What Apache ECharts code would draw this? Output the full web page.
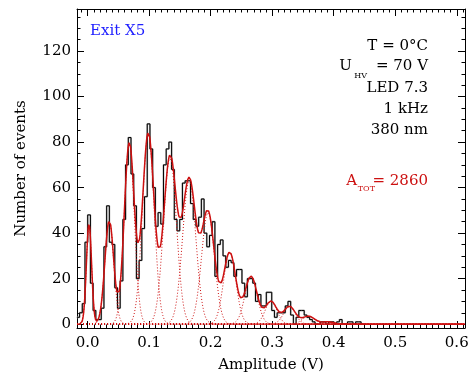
<!DOCTYPE html>
<html><head><meta charset="utf-8">
<script src="https://cdn.jsdelivr.net/npm/echarts@6/dist/echarts.min.js"></script>
<style>html,body{margin:0;padding:0;background:#fff}#c{width:475px;height:378px}</style>
</head><body><div id="c"></div>
<script>
// Histogram
const binStart = -0.0176;
const binWidth = 0.0044;
const counts = [3,5,9,36,48,18,6,2,2,7,34,52,36,35,16,7,19,46,70,82,66,52,20,28,42,56,88,77,60,43,49,44,70,77,80,68,46,41,46,62,63,63,53,46,43,47,55,40,34,39,45,21,35,37,30,25,28,27,21,24,24,18,12,20,20,18,10,13,8,8,14,14,6,3,5,5,5,8,10,4,0,3,6,6,4,3,2,1,0,0,1,1,0,1,1,0,1,2,0,0,1,1,0,1,1,0];
// Fitted Gaussian components
const fitCenters = [0.0021,0.0351,0.0676,0.0985,0.1338,0.1650,0.1956,0.2309,0.2655,0.2980,0.3280,0.3590,0.3900];
const fitHeights = [44,45.5,79.5,84,73.5,63,49,31.5,21,10,7.8,3.5,1];
const fitSigmas  = [0.0042,0.0072,0.0082,0.0095,0.0105,0.0108,0.0105,0.0100,0.0100,0.0095,0.0095,0.0100,0.0100];
// Axis ticks
const xTickLabels = [0,0.1,0.2,0.3,0.4,0.5,0.6];
const yTickLabels = [0,20,40,60,80,100,120];
const xMin = -0.0174, xMax = 0.6134, yMin = -1.7, yMax = 138.5;

const FONT = 'DejaVu Serif';
const RED = '#cc1010';

const histData = counts.map((v,k)=>[binStart + k*binWidth, v]);
const histEnd = binStart + counts.length*binWidth;
histData.push([histEnd, counts[counts.length-1]]);
histData.push([histEnd, 0]);

const step = 0.0005;
const xs = [];
for (let x = xMin; x <= xMax + 1e-9; x += step) xs.push(x);
const gauss = (x,i)=>fitHeights[i]*Math.exp(-Math.pow(x-fitCenters[i],2)/(2*fitSigmas[i]*fitSigmas[i]));
const compSeries = fitCenters.map((c,i)=>({
  type:'line', xAxisIndex:0, yAxisIndex:0, showSymbol:false, symbol:'none', silent:true, z:3,
  lineStyle:{color:RED, width:1, type:[1,2]},
  data: xs.map(x=>[x, gauss(x,i)])
}));
const totalData = xs.map(x=>{let s=0; for(let i=0;i<fitCenters.length;i++) s+=gauss(x,i); return [x,s];});

const xMinor=[]; for(let i=-1;i<=61;i++){ if(i%10!==0) xMinor.push(+(i*0.01).toFixed(2)); }
const yMinor=[]; for(let v=5; v<=135; v+=5){ if(v%20!==0) yMinor.push(v); }

function xAx(pos, major, labels){
  return {type:'value', min:xMin, max:xMax, position:pos, splitLine:{show:false},
    axisLine:{show:major, onZero:false, lineStyle:{color:'#000', width:1}},
    axisTick:{show:true, inside:true, length: major?7:3.5, customValues: major?xTickLabels:xMinor, lineStyle:{color:'#000'}},
    axisLabel:{show:labels, customValues: xTickLabels, formatter:v=>v.toFixed(1), color:'#000', fontFamily:FONT, fontSize:15, margin:8},
    name: labels?'Amplitude (V)':'', nameLocation:'middle', nameGap:30, nameTextStyle:{color:'#000', fontFamily:FONT, fontSize:15}
  };
}
function yAx(pos, major, labels){
  return {type:'value', min:yMin, max:yMax, position:pos, splitLine:{show:false},
    axisLine:{show:major, onZero:false, lineStyle:{color:'#000', width:1}},
    axisTick:{show:true, inside:true, length: major?7:3.5, customValues: major?yTickLabels:yMinor, lineStyle:{color:'#000'}},
    axisLabel:{show:labels, customValues: yTickLabels, color:'#000', fontFamily:FONT, fontSize:15, margin:6},
    name: labels?'Number of events':'', nameLocation:'middle', nameGap:48, nameRotate:90, nameTextStyle:{color:'#000', fontFamily:FONT, fontSize:15}
  };
}

const chart = echarts.init(document.getElementById('c'), null, {renderer:'canvas'});
const t = (text, x, y, opts={}) => ({type:'text', silent:true, style:Object.assign({text, x, y, fill:'#000', font:'15px "'+FONT+'"', textAlign:'right', textVerticalAlign:'middle'}, opts)});
chart.setOption({
  animation:false,
  grid:{left:77, right:10, top:9, bottom:46, containLabel:false},
  xAxis:[xAx('bottom',true,true), xAx('top',true,false), xAx('bottom',false,false), xAx('top',false,false)],
  yAxis:[yAx('left',true,true), yAx('right',true,false), yAx('left',false,false), yAx('right',false,false)],
  series:[
    {type:'line', step:'end', xAxisIndex:0, yAxisIndex:0, symbol:'none', z:1, lineStyle:{color:'#b0b0b0', width:1.8}, data:histData},
    {type:'line', step:'end', xAxisIndex:0, yAxisIndex:0, symbol:'none', z:2, lineStyle:{color:'#000', width:1}, data:histData},
    ...compSeries,
    {type:'line', xAxisIndex:0, yAxisIndex:0, symbol:'none', z:4, lineStyle:{color:RED, width:1.5}, data:totalData}
  ],
  graphic:[
    t('Exit X5', 90, 31.5, {fill:'#2020ff', textAlign:'left'}),
    t('T = 0°C', 428, 46.5),
    t('= 70 V', 428, 66),
    t('HV', 367, 76, {font:'8px "'+FONT+'"'}),
    t('U', 352, 66),
    t('LED 7.3', 428, 88),
    t('1 kHz', 428, 109.5),
    t('380 nm', 428, 130.5),
    t('= 2860', 428, 181, {fill:RED}),
    t('TOT', 375, 189, {fill:RED, font:'8px "'+FONT+'"'}),
    t('A', 357, 181, {fill:RED})
  ]
});
</script></body></html>
